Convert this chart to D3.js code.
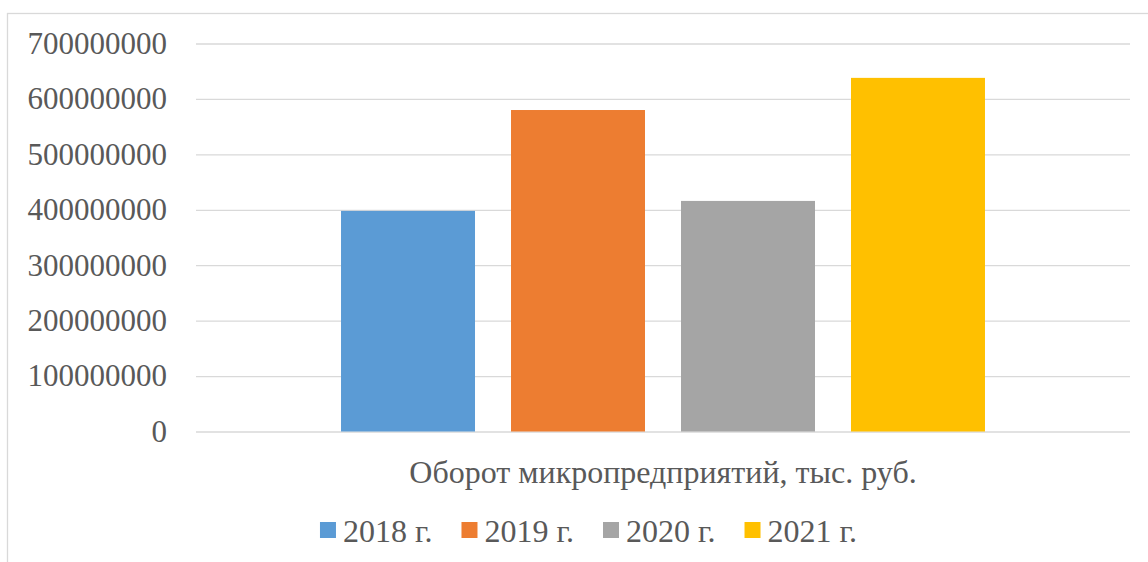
<!DOCTYPE html>
<html>
<head>
<meta charset="utf-8">
<script src="https://cdn.jsdelivr.net/npm/d3@7"></script>
<style>
  html, body { margin: 0; padding: 0; background: #fff; }
  svg text { font-family: "Liberation Serif", "Times New Roman", Tinos, "DejaVu Serif", serif !important; }
</style>
</head>
<body>
<div id="chart"></div>
<script>
// chart data
const categories = ['Оборот микропредприятий, тыс. руб.'];
const years = ['2018 г.', '2019 г.', '2020 г.', '2021 г.'];
const values = [398000000, 580000000, 416000000, 638000000];
const yTicks = [0, 100000000, 200000000, 300000000, 400000000, 500000000, 600000000, 700000000];
const colors = ['#5B9BD5', '#ED7D31', '#A5A5A5', '#FFC000'];

const width = 1148;
const height = 562;
const plot = { left: 196, right: 1130, top: 43.5, bottom: 431.5 };
const textColor = '#595959';
const gridColor = '#d9d9d9';

const svg = d3.select('#chart')
  .append('svg')
  .attr('width', width)
  .attr('height', height);

// chart area border (runs off the right and bottom of the picture)
svg.append('rect')
  .attr('x', 7.5)
  .attr('y', 13.5)
  .attr('width', width + 20)
  .attr('height', height + 20)
  .attr('fill', '#fff')
  .attr('stroke', gridColor)
  .attr('stroke-width', 1.3);

// scales
const y = d3.scaleLinear()
  .domain([0, 700000000])
  .range([plot.bottom, plot.top]);

const x0 = d3.scaleBand()
  .domain(categories)
  .range([plot.left, plot.right])
  .paddingInner(0)
  .paddingOuter(0.2252);

const x1 = d3.scaleBand()
  .domain(years)
  .range([0, x0.bandwidth()])
  .paddingInner(0.2118)
  .paddingOuter(0);

// y axis with gridlines
const yAxis = svg.append('g')
  .attr('transform', `translate(${plot.left},0)`)
  .call(d3.axisLeft(y)
    .tickValues(yTicks)
    .tickFormat(d3.format('d'))
    .tickSize(-(plot.right - plot.left))
    .tickPadding(29));

yAxis.select('.domain').remove();
yAxis.selectAll('.tick line')
  .attr('stroke', gridColor)
  .attr('stroke-width', 1.3);
yAxis.selectAll('.tick text')
  .attr('fill', textColor)
  .attr('font-size', 31);

// bars
const group = svg.append('g')
  .selectAll('g')
  .data(categories)
  .join('g')
  .attr('transform', d => `translate(${x0(d)},0)`);

group.selectAll('rect')
  .data(years.map((yr, i) => ({ year: yr, value: values[i], color: colors[i] })))
  .join('rect')
  .attr('x', d => x1(d.year))
  .attr('y', d => y(d.value))
  .attr('width', x1.bandwidth())
  .attr('height', d => y(0) - y(d.value))
  .attr('fill', d => d.color);

// category label
svg.append('g')
  .selectAll('text')
  .data(categories)
  .join('text')
  .attr('x', d => x0(d) + x0.bandwidth() / 2)
  .attr('y', 483)
  .attr('text-anchor', 'middle')
  .attr('fill', textColor)
  .attr('font-size', 32)
  .text(d => d);

// legend
const legend = svg.append('g');
const items = legend.selectAll('g')
  .data(years)
  .join('g');

items.append('rect')
  .attr('width', 16)
  .attr('height', 16)
  .attr('y', 522)
  .attr('fill', (d, i) => colors[i]);

items.append('text')
  .attr('x', 23)
  .attr('y', 541.5)
  .attr('fill', textColor)
  .attr('font-size', 32)
  .text(d => d);

// lay legend entries out side by side, centred on the chart area
const itemGap = 29;
let offset = 0;
const widths = [];
items.each(function () {
  const w = 23 + d3.select(this).select('text').node().getComputedTextLength();
  widths.push(w);
});
const total = d3.sum(widths) + itemGap * (widths.length - 1);
const start = 588.5 - total / 2;
items.attr('transform', (d, i) => {
  const tx = start + offset;
  offset += widths[i] + itemGap;
  return `translate(${tx},0)`;
});
</script>
</body>
</html>
